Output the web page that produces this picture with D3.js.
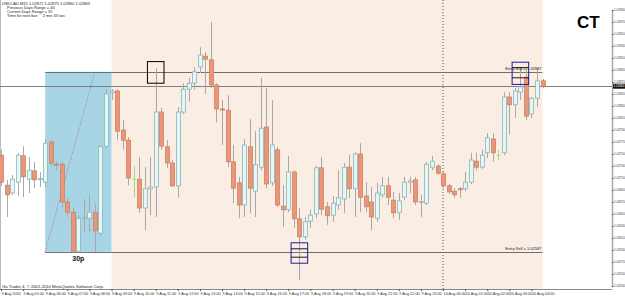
<!DOCTYPE html>
<html><head><meta charset="utf-8">
<script src="https://cdn.jsdelivr.net/npm/d3@7"></script>
<style>body{margin:0;background:#fff;overflow:hidden}svg{display:block}</style>
</head><body><svg id="c" width="625" height="296"></svg>
<script>
const symbolInfo = "USDCAD,M15  1.02872 1.02875 1.02860 1.02863";
const infoLines = ["Previous Days Range = 40", "Current Days Range = 32", "Time for next bar:    2 min 33 sec"];
const copyright = "Go Trader 4, \u00a9 2001-2010 MetaQuotes Software Corp.";

const open = [
1.02748,1.02698,1.02685,1.02703,1.02747,1.02708,1.02722,1.02708,1.02703,1.02770,
1.02733,1.02733,1.02670,1.02653,1.02588,1.02643,1.02643,1.02653,1.02618,1.02763,
1.02852,1.02855,1.02790,1.02773,1.02708,1.02708,1.02660,1.02692,1.02695,1.02820,
1.02762,1.02735,1.02697,1.02820,1.02858,1.02868,1.02895,1.02913,1.02907,1.02865,
1.02825,1.02823,1.02737,1.02702,1.02665,1.02762,1.02688,1.02728,1.02795,1.02702,
1.02757,1.02663,1.02657,1.02720,1.02642,1.02612,1.02638,1.02650,1.02727,1.02662,
1.02648,1.02665,1.02675,1.02728,1.02692,1.02750,1.02680,1.02670,1.02643,1.02682,
1.02697,1.02673,1.02652,1.02678,1.02703,1.02707,1.02670,1.02668,1.02727,1.02730,
1.02717,1.02697,1.02688,1.02692,1.02692,1.02703,1.02738,1.02728,1.02752,1.02775,
1.02748,1.02752,1.02845,1.02832,1.02853,1.02878,1.02817,1.02843,1.02872];
const high = [
1.02757,1.02707,1.02715,1.02752,1.02763,1.02745,1.02737,1.02720,1.02775,1.02773,
1.02738,1.02737,1.02677,1.02660,1.02648,1.02675,1.02682,1.02668,1.02765,1.02858,
1.02858,1.02858,1.02807,1.02778,1.02730,1.02745,1.02728,1.02745,1.02893,1.02827,
1.02773,1.02740,1.02828,1.02868,1.02877,1.02895,1.02928,1.02920,1.02970,1.02868,
1.02840,1.02848,1.02765,1.02712,1.02775,1.02808,1.02788,1.02877,1.02860,1.02840,
1.02762,1.02698,1.02747,1.02723,1.02660,1.02645,1.02657,1.02730,1.02745,1.02670,
1.02680,1.02723,1.02735,1.02748,1.02753,1.02768,1.02703,1.02695,1.02702,1.02712,
1.02712,1.02687,1.02685,1.02712,1.02712,1.02712,1.02682,1.02737,1.02747,1.02733,
1.02720,1.02700,1.02693,1.02695,1.02720,1.02752,1.02752,1.02757,1.02785,1.02785,
1.02757,1.02853,1.02853,1.02860,1.02895,1.02893,1.02845,1.02893,1.02875];
const low = [
1.02697,1.02645,1.02682,1.02680,1.02678,1.02685,1.02693,1.02695,1.02695,1.02730,
1.02723,1.02660,1.02645,1.02585,1.02585,1.02620,1.02620,1.02587,1.02613,1.02760,
1.02840,1.02773,1.02757,1.02698,1.02677,1.02652,1.02623,1.02648,1.02645,1.02757,
1.02727,1.02695,1.02677,1.02817,1.02837,1.02857,1.02885,1.02850,1.02860,1.02803,
1.02765,1.02728,1.02668,1.02643,1.02645,1.02652,1.02645,1.02723,1.02693,1.02697,
1.02662,1.02628,1.02653,1.02627,1.02540,1.02607,1.02627,1.02643,1.02648,1.02632,
1.02637,1.02657,1.02652,1.02677,1.02645,1.02653,1.02653,1.02623,1.02637,1.02677,
1.02665,1.02643,1.02640,1.02673,1.02685,1.02665,1.02645,1.02665,1.02723,1.02715,
1.02693,1.02683,1.02677,1.02677,1.02688,1.02700,1.02723,1.02725,1.02743,1.02737,
1.02740,1.02748,1.02782,1.02810,1.02840,1.02807,1.02810,1.02828,1.02860];
const close = [
1.02703,1.02682,1.02708,1.02748,1.02712,1.02723,1.02707,1.02709,1.02768,1.02735,
1.02732,1.02670,1.02653,1.02588,1.02643,1.02644,1.02653,1.02622,1.02762,1.02850,
1.02855,1.02788,1.02773,1.02710,1.02708,1.02660,1.02692,1.02695,1.02820,1.02763,
1.02735,1.02697,1.02820,1.02858,1.02868,1.02887,1.02915,1.02908,1.02865,1.02825,
1.02824,1.02737,1.02693,1.02665,1.02765,1.02693,1.02732,1.02793,1.02700,1.02765,
1.02665,1.02657,1.02720,1.02642,1.02612,1.02637,1.02648,1.02727,1.02658,1.02647,
1.02668,1.02677,1.02728,1.02692,1.02750,1.02678,1.02662,1.02645,1.02685,1.02697,
1.02678,1.02652,1.02672,1.02703,1.02705,1.02670,1.02671,1.02733,1.02738,1.02718,
1.02697,1.02687,1.02682,1.02691,1.02703,1.02740,1.02728,1.02748,1.02777,1.02752,
1.02748,1.02845,1.02832,1.02855,1.02862,1.02813,1.02843,1.02872,1.02863];

const timeTickIndex = [0,4,8,12,16,20,24,28,32,36,40,44,48,52,56,60,64,68,72,76,80,84,88,92,96];
const timeTickLabels = ["9 Aug 2010","9 Aug 05:00","9 Aug 06:00","9 Aug 07:00","9 Aug 08:00","9 Aug 09:00",
 "9 Aug 10:00","9 Aug 11:00","9 Aug 12:00","9 Aug 13:00","9 Aug 14:00","9 Aug 15:00","9 Aug 16:00",
 "9 Aug 17:00","9 Aug 18:00","9 Aug 19:00","9 Aug 20:00","9 Aug 21:00","9 Aug 22:00","9 Aug 23:00",
 "10 Aug 00:00","10 Aug 01:00","10 Aug 02:00","10 Aug 03:00","10 Aug 04:00"];
const priceTicks = [1.02530,1.02550,1.02570,1.02590,1.02610,1.02630,1.02650,1.02670,1.02690,1.02710,
 1.02730,1.02750,1.02770,1.02790,1.02810,1.02830,1.02850,1.02870,1.02890,1.02910,1.02930,1.02950,1.02970,1.02990];

const entryBuy = 1.02887, entrySell = 1.02587, bid = 1.02863;
const rangeStart = 8, rangeEnd = 20, sessionStart = 20, sessionEnd = 98, daySep = 80;
const diagEnd = 17;
const boxes = [
  {i0:27, i1:29, top:1.02904, bottom:1.02868, color:"#000", inner:null},
  {i0:53, i1:55, top:1.02602, bottom:1.02568, color:"#1a1aa0", inner:[1.02592,1.02578]},
  {i0:93, i1:95, top:1.02903, bottom:1.02866, color:"#1a1aa0", inner:[1.02894,1.02877]}
];

const svg = d3.select("#c");
const axisX = 612, plotBottom = 289;
const x = d3.scaleLinear().domain([0, 98]).range([1, 542.5]);
const y = d3.scaleLinear().domain([1.02530, 1.02990]).range([286, 10]);
const step = x(1) - x(0);
const FONT = "Liberation Sans, Arial";

svg.append("rect").attr("x", x(sessionStart)).attr("y", 0)
  .attr("width", x(sessionEnd) - x(sessionStart)).attr("height", plotBottom)
  .attr("fill", "#faeee4");
svg.append("rect").attr("x", x(rangeStart)).attr("y", y(entryBuy))
  .attr("width", x(rangeEnd) - x(rangeStart)).attr("height", y(entrySell) - y(entryBuy))
  .attr("fill", "#a8d5e6");

svg.append("line").attr("x1",0.5).attr("x2",0.5).attr("y1",0).attr("y2",plotBottom).attr("stroke","#bbb");
svg.append("line").attr("x1",0).attr("x2",axisX).attr("y1",plotBottom+0.5).attr("y2",plotBottom+0.5).attr("stroke","#888");

svg.append("line").attr("x1", x(daySep)).attr("x2", x(daySep)).attr("y1", 0).attr("y2", plotBottom)
  .attr("stroke", "#555").attr("stroke-dasharray", "1,2");

svg.append("line").attr("x1", x(rangeStart)).attr("y1", y(entrySell)).attr("x2", x(diagEnd)).attr("y2", y(entryBuy))
  .attr("stroke", "#a07c8c").attr("stroke-dasharray", "1,1.5");

[entryBuy, entrySell].forEach(p => {
  svg.append("line").attr("x1", x(rangeStart)).attr("x2", x(sessionEnd))
    .attr("y1", Math.round(y(p)) + 0.5).attr("y2", Math.round(y(p)) + 0.5).attr("stroke", "#707070");
});
svg.append("line").attr("x1", 0).attr("x2", axisX).attr("y1", Math.round(y(bid)) + 0.5).attr("y2", Math.round(y(bid)) + 0.5)
  .attr("stroke", "#808080");

const data = open.map((o, i) => ({i, o, h: high[i], l: low[i], c: close[i]}));
const g = svg.append("g");
data.forEach(d => {
  const cx = Math.round(x(d.i)) + 0.5;
  const doji = d.o === d.c;
  const bull = d.c > d.o;
  g.append("line").attr("x1", cx).attr("x2", cx).attr("y1", y(d.h)).attr("y2", y(d.l))
    .attr("stroke", doji ? "#a8d878" : "#a8a8a8");
  if (doji) {
    g.append("line").attr("x1", cx - 2).attr("x2", cx + 2).attr("y1", y(d.o)).attr("y2", y(d.o)).attr("stroke", "#a8d878");
    return;
  }
  const top = y(Math.max(d.o, d.c)), bot = y(Math.min(d.o, d.c));
  g.append("rect").attr("x", cx - 2).attr("y", top).attr("width", 4).attr("height", Math.max(1, bot - top))
    .attr("fill", bull ? "#e4f6f6" : "#e8977a")
    .attr("stroke", bull ? "#8db5b8" : "#d0805f").attr("stroke-width", 0.8);
});

boxes.forEach(b => {
  const x0 = x(b.i0) - step / 2, x1 = x(b.i1) + step / 2;
  svg.append("rect").attr("x", x0).attr("y", y(b.top)).attr("width", x1 - x0).attr("height", y(b.bottom) - y(b.top))
    .attr("fill", "none").attr("stroke", b.color).attr("stroke-width", 1);
  if (b.inner) b.inner.forEach(p => {
    svg.append("line").attr("x1", x0).attr("x2", x1).attr("y1", y(p)).attr("y2", y(p)).attr("stroke", "#000").attr("stroke-width", 0.9);
  });
});

const fmt = d3.format(".5f");
svg.append("text").attr("x", x(sessionEnd) - 1).attr("y", y(entryBuy) - 1.5).attr("text-anchor", "end")
  .attr("font-family", FONT).attr("font-size", 4).attr("fill", "#222").text("Entry Buy = " + fmt(entryBuy));
svg.append("text").attr("x", x(sessionEnd) - 1).attr("y", y(entrySell) - 1.5).attr("text-anchor", "end")
  .attr("font-family", FONT).attr("font-size", 4).attr("fill", "#222").text("Entry Sell = " + fmt(entrySell));

svg.append("text").attr("x", (x(rangeStart) + x(rangeEnd)) / 2).attr("y", y(entrySell) + 9).attr("text-anchor", "middle")
  .attr("font-family", FONT).attr("font-weight", "bold").attr("font-size", 7).attr("fill", "#111").text("30p");

svg.append("text").attr("x", 577).attr("y", 28).attr("font-family", FONT).attr("font-weight", "bold")
  .attr("font-size", 17).attr("fill", "#000").text("CT");

const hdr = svg.append("g").attr("font-family", FONT).attr("font-size", 4).attr("fill", "#222");
hdr.append("text").attr("x", 2).attr("y", 5).text(symbolInfo);
infoLines.forEach((t, k) => hdr.append("text").attr("x", 7).attr("y", 9 + k * 4).attr("xml:space", "preserve").text(t));

const ya = svg.append("g").attr("transform", `translate(${axisX},0)`)
  .call(d3.axisRight(y).tickValues(priceTicks).tickFormat(fmt).tickSize(1.5).tickPadding(0.5));
ya.select(".domain").attr("stroke", "#aaa").attr("stroke-width", 1.5);
ya.selectAll(".tick line").attr("stroke", "#555");
ya.selectAll("text").attr("font-family", FONT).attr("font-size", 3).attr("fill", "#333");

svg.append("rect").attr("x", axisX + 1).attr("y", y(bid) - 2.5).attr("width", 12).attr("height", 5).attr("fill", "#111");
svg.append("text").attr("x", axisX + 1.6).attr("y", y(bid) + 1.1).attr("font-family", FONT)
  .attr("font-size", 3).attr("fill", "#fff").text(fmt(bid));

const xa = svg.append("g").attr("transform", `translate(0,${plotBottom})`)
  .call(d3.axisBottom(x).tickValues(timeTickIndex).tickFormat((d, k) => timeTickLabels[k]).tickSize(2).tickPadding(1));
xa.select(".domain").remove();
xa.selectAll(".tick line").attr("stroke", "#555");
xa.selectAll("text").attr("text-anchor", "start").attr("font-family", FONT).attr("font-size", 3.8).attr("fill", "#333");

svg.append("text").attr("x", 2).attr("y", 288).attr("font-family", FONT).attr("font-size", 4.2)
  .attr("fill", "#222").text(copyright);
</script></body></html>
